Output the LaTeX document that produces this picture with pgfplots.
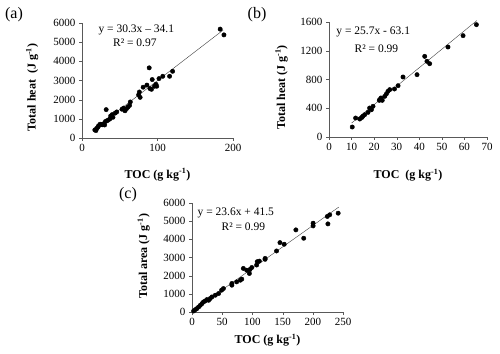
\documentclass[border=0pt]{standalone}
\usepackage{fontspec}
\setmainfont{Liberation Serif}
\usepackage{pgfplots}
\pgfplotsset{compat=1.18}

\pgfplotsset{
  panel/.style={
    scale only axis,
    anchor=south west,
    axis lines=left,
    axis line style={-, gray!70!black},
    tick style={gray!70!black},
    tick align=outside,
    major tick length=3pt,
    clip=false,
    /pgf/number format/1000 sep={},
    /pgf/number format/assume math mode=true,
    tick label style={font=\fontsize{11}{13}\selectfont},
    label style={font=\fontsize{12}{14}\selectfont\bfseries, anchor=center},
  },
  dots/.style={only marks, mark=*, mark size=2.2pt, black},
  fit/.style={no marks, thin, black!75},
}

\begin{document}
\begin{tikzpicture}
\path[use as bounding box] (0,0) rectangle (500pt,353pt);

% (a)
\begin{axis}[panel,
  at={(82pt,215pt)}, width=151pt, height=115pt,
  xmin=0, xmax=200, ymin=0, ymax=6000,
  xtick={0,100,200}, ytick={0,1000,...,6000},
  xlabel={TOC (g kg\textsuperscript{-1})}, ylabel={Total heat\ \ (J g\textsuperscript{-1})},
  xlabel style={at={(axis description cs:0.5,-0.32)}},
  ylabel style={at={(axis description cs:-0.33,0.44)}},
]
\addplot[dots] coordinates {
(17,420) (18.5,390) (19.5,505) (21,560) (22,640) (24,720) (25.5,700)
(27,690) (28.5,740) (30,680) (31,860) (32,1480) (33,900) (35,940)
(37,1000) (38,1150) (40,1220) (41,1080) (44,1300) (46,1360) (53,1500)
(55,1560) (57,1420) (59,1530) (61,1620) (63,1700) (64,1880) (75,2250)
(76,2400) (77,2120) (81,2650) (86,2760) (89,3660) (90,2580) (92,2540)
(93,3050) (96,2700) (98,2800) (99,2700) (102,3100) (107,3220) (116,3220)
(120,3480) (183,5680) (188,5380)
};
\addplot[fit] coordinates {(17,481) (187,5632)};
\node[font=\fontsize{11.5}{13}\selectfont] at (rel axis cs:0.36,0.94) {y = 30.3x – 34.1};
\node[font=\fontsize{11.5}{13}\selectfont] at (rel axis cs:0.35,0.83) {R² = 0.97};
\end{axis}
\node[font=\fontsize{16}{18}\selectfont] at (14pt,338pt) {(a)};

% (b)
\begin{axis}[panel,
  at={(329pt,216pt)}, width=158pt, height=115pt,
  xmin=0, xmax=70, ymin=0, ymax=1600,
  xtick={0,10,...,70}, ytick={0,400,...,1600},
  xlabel={TOC\ \ (g kg\textsuperscript{-1})}, ylabel={Total heat (J g\textsuperscript{-1})},
  xlabel style={at={(axis description cs:0.5,-0.33)}},
  ylabel style={at={(axis description cs:-0.30,0.43)}},
]
\addplot[dots] coordinates {
(10.3,139) (11.8,264) (13.6,250) (14.5,270) (15,288) (15.8,310) (17.3,343)
(18,403) (18.8,380) (19.5,427) (22.3,510) (22.5,520) (23,543) (23.6,510)
(24.7,566) (25.4,598) (26.1,635) (26.9,659) (29,668) (30.6,714) (32.8,835)
(39,867) (42.4,1122) (43.4,1053) (44.6,1020) (52.7,1252) (59.4,1410) (65.3,1563)
};
\addplot[fit] coordinates {(10,194) (65.5,1620)};
\node[font=\fontsize{11.5}{13}\selectfont] at (rel axis cs:0.28,0.91) {y = 25.7x - 63.1};
\node[font=\fontsize{11.5}{13}\selectfont] at (rel axis cs:0.30,0.77) {R² = 0.99};
\end{axis}
\node[font=\fontsize{16}{18}\selectfont] at (257pt,338pt) {(b)};

% (c)
\begin{axis}[panel,
  at={(192pt,41pt)}, width=151pt, height=109pt,
  xmin=0, xmax=250, ymin=0, ymax=6000,
  xtick={0,50,...,250}, ytick={0,1000,...,6000},
  xlabel={TOC (g kg\textsuperscript{-1})}, ylabel={Total area (J g\textsuperscript{-1})},
  xlabel style={at={(axis description cs:0.5,-0.26)}},
  ylabel style={at={(axis description cs:-0.32,0.51)}},
]
\addplot[dots] coordinates {
(2.7,55) (5.5,129) (8,185) (11,277) (13.7,369) (16.5,461) (19,554) (22,609)
(24.7,683) (27.5,646) (30,738) (33,830) (38.5,923) (44,1015) (49,1200) (52,1290)
(66,1477) (66,1570) (74,1660) (80,1750) (82.4,1810) (85,2400) (90.6,2300)
(95,2120) (96,2340) (99,2450) (107,2585) (108,2770) (111.5,2800) (121,2900)
(121,2950) (140,3360) (145.6,3820) (152.7,3730) (172,4520) (185,4060)
(200.5,4890) (200.5,4740) (225,4850) (224,5260) (228,5350) (242,5440)
};
\addplot[fit] coordinates {(2,89) (243,5776)};
\node[font=\fontsize{11.5}{13}\selectfont] at (rel axis cs:0.29,0.91) {y = 23.6x + 41.5};
\node[font=\fontsize{11.5}{13}\selectfont] at (rel axis cs:0.34,0.78) {R² = 0.99};
\end{axis}
\node[font=\fontsize{16}{18}\selectfont] at (128pt,158pt) {(c)};
\end{tikzpicture}
\end{document}
